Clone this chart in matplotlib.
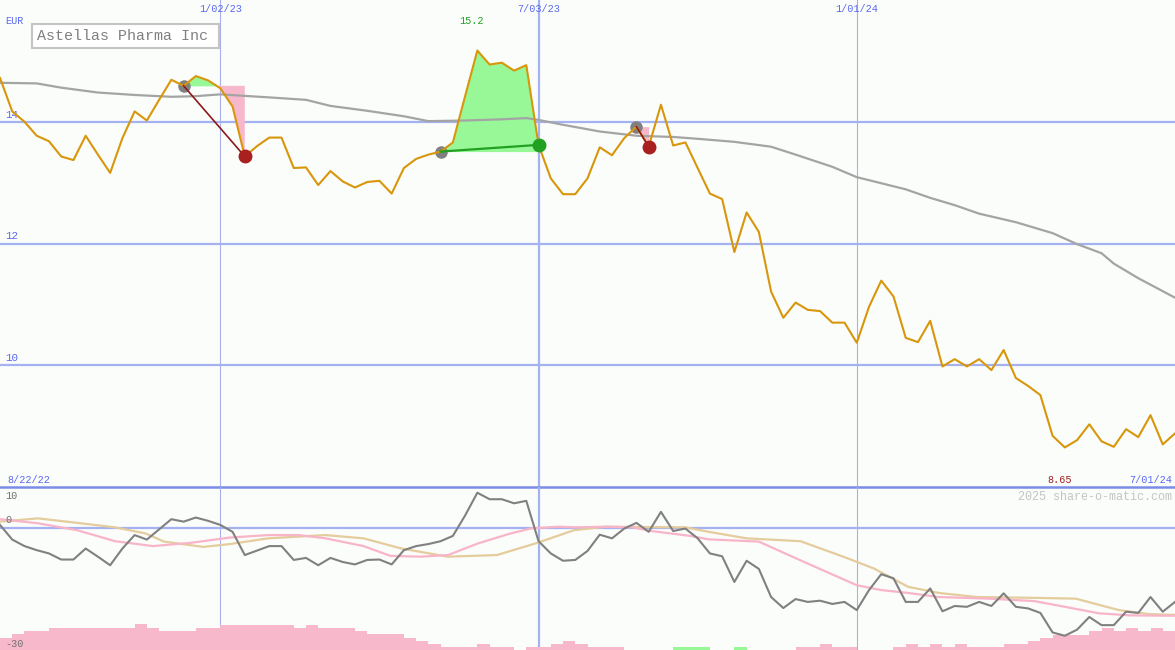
import numpy as np
import pandas as pd
import matplotlib
matplotlib.use("Agg")
import matplotlib.pyplot as plt
from matplotlib.patches import Rectangle

plt.rcParams["font.family"] = ["Liberation Mono", "DejaVu Sans Mono"]

# weekly closes, first week 8/29/22
weeks = pd.date_range("2022-08-29", periods=97, freq="7D")
price = [14.72, 14.17, 14.00, 13.77, 13.68, 13.43, 13.37, 13.77, 13.46, 13.16,
         13.73, 14.17, 14.02, 14.36, 14.69, 14.59, 14.75, 14.68, 14.55, 14.25,
         13.43, 13.60, 13.74, 13.74, 13.24, 13.25, 12.96, 13.19, 13.02, 12.92,
         13.01, 13.03, 12.82, 13.24, 13.39, 13.46, 13.51, 13.66, 14.42, 15.17,
         14.94, 14.97, 14.84, 14.93, 13.62, 13.07, 12.81, 12.81, 13.07, 13.58,
         13.45, 13.73, 13.92, 13.59, 14.28, 13.61, 13.66, 13.24, 12.82, 12.73,
         11.86, 12.51, 12.19, 11.21, 10.78, 11.03, 10.91, 10.89, 10.70, 10.70,
         10.37, 10.96, 11.39, 11.13, 10.45, 10.38, 10.73, 9.98, 10.10, 9.98,
         10.10, 9.92, 10.25, 9.79, 9.66, 9.51, 8.84, 8.65, 8.77, 9.03,
         8.75, 8.66, 8.95, 8.82, 9.18, 8.70, 8.88]

# long moving average (read at these weeks)
ma_week = [0, 3, 5, 8, 11, 14, 16, 18, 22, 25, 27, 30, 33, 35, 38, 41, 43, 44, 46, 49,
           52, 55, 57, 60, 63, 65, 68, 70, 72, 74, 76, 78, 80, 83, 86, 88, 90, 91, 93, 96]
ma_val = [14.64, 14.63, 14.56, 14.48, 14.44, 14.41, 14.42, 14.45, 14.40, 14.36,
          14.26, 14.18, 14.09, 14.01, 14.02, 14.04, 14.06, 14.03, 13.95, 13.84,
          13.77, 13.75, 13.72, 13.67, 13.59, 13.46, 13.26, 13.09, 12.99, 12.89,
          12.75, 12.63, 12.49, 12.35, 12.17, 11.99, 11.84, 11.67, 11.43, 11.11]

# trades: (entry week, exit week)
trades = [(15, 20), (36, 44), (52, 53)]

# lower panel
dev = [0.7, -2.9, -4.5, -5.5, -6.3, -7.8, -7.8, -5.1, -7.1, -9.2,
       -5.1, -1.8, -2.9, -0.4, 2.1, 1.5, 2.5, 1.7, 0.7, -1.0,
       -6.7, -5.6, -4.5, -4.5, -7.9, -7.4, -9.2, -7.4, -8.4, -9.0,
       -7.9, -7.8, -9.0, -5.5, -4.5, -4.0, -3.3, -2.0, 3.0, 8.6,
       7.0, 7.0, 6.0, 6.6, -3.3, -6.3, -8.1, -7.9, -5.7, -1.7,
       -2.6, -0.2, 1.2, -1.0, 3.9, -0.8, -0.2, -2.6, -6.3, -7.0,
       -13.3, -8.1, -10.1, -17.0, -19.7, -17.5, -18.2, -17.9, -18.7, -18.2,
       -20.2, -15.3, -11.4, -12.4, -18.2, -18.2, -14.9, -20.5, -19.2, -19.4,
       -18.2, -19.2, -16.1, -19.4, -19.8, -20.9, -25.7, -26.5, -25.0, -21.9,
       -23.9, -23.9, -20.6, -20.9, -17.0, -20.6, -18.2]

pink_x = [0, 3.1, 6.3, 9.4, 12.5, 15.6, 18.8, 21.9, 24.4, 26.6, 29.7, 31.9, 34.4, 36.6,
          39.1, 41.6, 43.4, 45.6, 47.0, 49.5, 51.7, 53.2, 56.4, 57.9, 62.0, 65.7, 70.0,
          72.0, 74.2, 76.7, 80.8, 84.5, 87.0, 89.8, 92.3, 96.0]
pink_val = [2.1, 1.1, -0.6, -3.3, -4.5, -3.7, -2.4, -1.8, -1.8, -2.6,
            -4.5, -6.9, -7.1, -6.7, -3.8, -1.5, -0.15, 0.25, 0.1, 0.25,
            0.1, -0.8, -2.0, -2.85, -3.4, -8.4, -14.1, -15.3, -16.0, -17.0,
            -17.4, -18.0, -19.4, -21.0, -21.5, -21.6]

tan_x = [0, 3.1, 6.3, 9.4, 11.9, 13.4, 16.6, 18.8, 21.9, 26.6, 29.7, 32.8, 36.6, 40.6,
         43.8, 46.9, 49.5, 56.0, 57.9, 61.0, 65.4, 68.9, 71.4, 74.2, 76.7, 79.8, 84.5,
         87.9, 91.4, 93.9, 96.0]
tan_val = [1.5, 2.3, 1.2, 0.1, -1.4, -3.4, -4.7, -4.0, -2.6, -1.8,
           -2.6, -5.1, -7.1, -6.7, -3.8, -0.6, 0.25, 0.1, -1.0, -2.6,
           -3.3, -7.1, -10.0, -14.5, -16.0, -17.0, -17.2, -17.4, -20.2, -21.2, -21.4]

hist = [-2.9, -3.9, -4.7, -4.7, -5.5, -5.5, -5.5, -5.5, -5.5, -5.5,
        -5.5, -6.3, -5.5, -4.7, -4.7, -4.7, -5.5, -5.5, -6.1, -6.1,
        -6.1, -6.1, -6.1, -6.1, -5.5, -6.1, -5.5, -5.5, -5.5, -4.7,
        -3.9, -3.9, -3.9, -3.0, -2.2, -1.5, -0.8, -0.8, -0.8, -1.5,
        -0.8, -0.8, 0, -0.8, -0.8, -1.5, -2.2, -1.5, -0.8, -0.8,
        -0.8, 0, 0, 0, 0, 0.8, 0.8, 0.8, 0, 0,
        0.8, 0, 0, 0, 0, -0.8, -0.8, -1.5, -0.8, -0.8,
        0, 0, 0, -0.8, -1.5, -0.8, -1.5, -0.8, -1.5, -0.8,
        -0.8, -0.8, -1.5, -1.5, -2.2, -2.9, -3.7, -3.7, -3.7, -4.7,
        -5.5, -4.7, -5.5, -4.7, -5.5, -4.7]

grid_c = "#a4b2f2"
lbl_c = "#5a68f0"
bg = "#fbfdfb"
fs = 7.3

fig = plt.figure(figsize=(11.75, 6.5), dpi=100, facecolor=bg)
ax = fig.add_axes([0, 163 / 650, 1, 487 / 650], facecolor=bg)
ax2 = fig.add_axes([0, 0, 1, 163 / 650], facecolor=bg)

x = np.arange(len(price))
p = np.array(price)

for a in (ax, ax2):
    a.set_xlim(0, 96)
    a.axis("off")
ax.set_ylim(8, 16)
ax2.set_ylim(-30, 10)

# grid
for yv in [10, 12, 14]:
    ax.axhline(yv, color=grid_c, lw=1.6, zorder=1)
    ax.annotate(str(yv), (0, yv), xytext=(4, 1.5), textcoords="offset points",
                color=lbl_c, fontsize=fs + 0.5, va="bottom")
year_lines = ["2023-01-02", "2024-01-01"]
mid_lines = ["2023-07-03"]
for d in year_lines + mid_lines:
    i = weeks.get_loc(pd.Timestamp(d))
    thick = d in mid_lines
    for a in (ax, ax2):
        a.axvline(i, color=grid_c if thick else "#a8b0ec", lw=1.6 if thick else 0.8, zorder=1)
    ax.annotate(pd.Timestamp(d).strftime("%-m/%d/%y"), (i, 16), xytext=(0, -6.5),
                textcoords="offset points", color=lbl_c, fontsize=fs,
                ha="center", va="center")

# panel divider
ax.axhline(8.0, color="#7b8ce8", lw=1.8, zorder=5, clip_on=False)
ax2.axhline(0, color=grid_c, lw=1.6, zorder=1)

# moving average and price
ax.plot(ma_week, ma_val, color="#a4a4a4", lw=1.6, zorder=3)

for a_i, b_i in trades:
    xs = x[a_i:b_i + 1]
    ys = p[a_i:b_i + 1]
    entry = p[a_i]
    ax.fill_between(xs, ys, entry, where=ys >= entry, interpolate=True,
                    color="#98f898", lw=0, zorder=2)
    ax.fill_between(xs, ys, entry, where=ys <= entry, interpolate=True,
                    color="#f8b8cc", lw=0, zorder=2)

ax.plot(x, p, color="#d8960a", lw=1.5, zorder=4)

for a_i, b_i in trades:
    win = p[b_i] > p[a_i]
    c = "#22a022" if win else "#a82020"
    lc = "#22a022" if win else "#8b1a1a"
    ax.plot([a_i, b_i], [p[a_i], p[b_i]], color=lc, lw=1.6 if win else 1.2, zorder=5)
    ax.plot(a_i, p[a_i], "o", color="#808080", ms=8, zorder=3)
    ax.plot(b_i, p[b_i], "o", color=c, ms=9, zorder=6)

# labels
hi = int(np.argmax(p))
lo = int(np.argmin(p))
ax.annotate(f"{p[hi]:.1f}", (hi, 16), xytext=(-4, -15), textcoords="offset points",
            color="#22a022", fontsize=fs, ha="center", va="center")
ax.annotate(f"{p[lo]:.2f}", (lo, 8.0), xytext=(-4, 1.5), textcoords="offset points",
            color="#a02020", fontsize=fs, ha="center", va="bottom")
ax.annotate("EUR", (0, 16), xytext=(4, -15), textcoords="offset points",
            color=lbl_c, fontsize=fs, va="center")
ax.annotate("8/22/22", (0, 8.0), xytext=(5, 1.5), textcoords="offset points",
            color=lbl_c, fontsize=fs, va="bottom")
ax.annotate(weeks[-1].strftime("%-m/%d/%y"), (96, 8.0), xytext=(-2, 1.5),
            textcoords="offset points", color=lbl_c, fontsize=fs,
            ha="right", va="bottom")
# title box (pixel placed)
ax.add_patch(Rectangle((32 / 1175, 1 - 48 / 487), 187 / 1175, 24 / 487,
                       transform=ax.transAxes, fc="white", ec="#c4c4c4", lw=1.5, zorder=6))
ax.text(37 / 1175, 1 - 36 / 487, "Astellas Pharma Inc", transform=ax.transAxes,
        color="#808080", fontsize=10.8, ha="left", va="center", zorder=7)

# lower panel
bar_c = ["#98f898" if h > 0 else "#f8b8cc" for h in hist]
ax2.bar(np.arange(len(hist)), np.abs(hist), bottom=-30, width=1.0, align="edge",
        color=bar_c, lw=0, zorder=2)
ax2.plot(tan_x, tan_val, color="#e4cc9c", lw=1.6, zorder=3)
ax2.plot(pink_x, pink_val, color="#f8b4c8", lw=1.6, zorder=3)
ax2.plot(x, dev, color="#808080", lw=1.5, zorder=4)

ax2.annotate("10", (0, 10), xytext=(4, -3), textcoords="offset points",
             color="#707070", fontsize=fs, va="top")
ax2.annotate("0", (0, 0), xytext=(4, 2), textcoords="offset points",
             color="#707070", fontsize=fs, va="bottom")
ax2.annotate("-30", (0, -30), xytext=(4, 1), textcoords="offset points",
             color="#707070", fontsize=fs, va="bottom")
ax2.annotate("2025 share-o-matic.com", (96, 10), xytext=(-2, -3),
             textcoords="offset points", color="#c4c4c4", fontsize=8.5,
             ha="right", va="top")

fig.savefig("out.png", dpi=100, facecolor=bg)
